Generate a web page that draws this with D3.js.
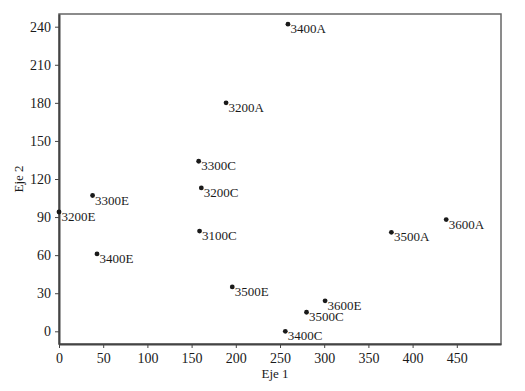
<!DOCTYPE html>
<html>
<head>
<meta charset="utf-8">
<script src="https://cdn.jsdelivr.net/npm/d3@7"></script>
<style>
  body { margin: 0; background: #fff; }
  text { font-family: "Liberation Serif", "Times New Roman", serif; fill: #1a1a1a; }
  .axis path, .axis line { stroke: #444; }
  .axis text { font-size: 14px; }
</style>
</head>
<body>
<div id="wrapper"></div>
<script>
// data
const labels = ["3400A", "3200A", "3300C", "3200C", "3300E", "3200E", "3100C",
  "3400E", "3500E", "3600A", "3500A", "3600E", "3500C", "3400C"]
const eje1 = [259, 189, 158, 161, 38, 0, 159, 43, 196, 438, 376, 301, 280, 256]
const eje2 = [242, 180, 134, 113, 107, 94, 79, 61, 35, 88, 78, 24, 15, 0]
const xTicks = [0, 50, 100, 150, 200, 250, 300, 350, 400, 450]
const yTicks = [0, 30, 60, 90, 120, 150, 180, 210, 240]

const dataset = labels.map((d, i) => ({ label: d, x: eje1[i], y: eje2[i] }))

let dimensions = {
  width: 525,
  height: 391,
  margin: { top: 14, right: 24, bottom: 47, left: 59 },
}
dimensions.boundedWidth = dimensions.width - dimensions.margin.left - dimensions.margin.right
dimensions.boundedHeight = dimensions.height - dimensions.margin.top - dimensions.margin.bottom

const wrapper = d3.select("#wrapper")
  .append("svg")
    .attr("width", dimensions.width)
    .attr("height", dimensions.height)

const bounds = wrapper.append("g")
    .attr("transform", `translate(${dimensions.margin.left},${dimensions.margin.top})`)

const xScale = d3.scaleLinear()
  .domain([0, 500])
  .range([0, dimensions.boundedWidth])

const yScale = d3.scaleLinear()
  .domain([-10, 250])
  .range([dimensions.boundedHeight, 0])

// frame
bounds.append("rect")
    .attr("width", dimensions.boundedWidth)
    .attr("height", dimensions.boundedHeight)
    .attr("fill", "none")
    .attr("stroke", "#666")
    .attr("stroke-width", 1.5)

const xAxis = bounds.append("g")
    .attr("class", "axis")
    .attr("transform", `translate(0,${dimensions.boundedHeight})`)
    .call(d3.axisBottom(xScale).tickValues(xTicks).tickSize(4).tickSizeOuter(0))
xAxis.select(".domain").attr("stroke-width", 2)
xAxis.selectAll(".tick text").attr("dy", "0.85em")

const yAxis = bounds.append("g")
    .attr("class", "axis")
    .call(d3.axisLeft(yScale).tickValues(yTicks).tickSize(4).tickSizeOuter(0))
yAxis.select(".domain").attr("stroke-width", 2)
yAxis.selectAll(".tick text").attr("dx", "-1px")

// points
const points = bounds.append("g")
  .selectAll("g")
  .data(dataset)
  .join("g")
    .attr("transform", d => `translate(${xScale(d.x)},${yScale(d.y)})`)

points.append("circle")
    .attr("r", 2.4)
    .attr("fill", "#1a1a1a")

points.append("text")
    .attr("x", 2.5)
    .attr("y", 9)
    .style("font-size", "13px")
    .text(d => d.label)

// axis titles
wrapper.append("text")
    .attr("x", dimensions.margin.left + dimensions.boundedWidth / 2 - 5)
    .attr("y", 378)
    .attr("text-anchor", "middle")
    .style("font-size", "13px")
    .text("Eje 1")

wrapper.append("text")
    .attr("transform", `translate(23,${dimensions.margin.top + dimensions.boundedHeight / 2}) rotate(-90)`)
    .attr("text-anchor", "middle")
    .style("font-size", "13px")
    .text("Eje 2")
</script>
</body>
</html>
